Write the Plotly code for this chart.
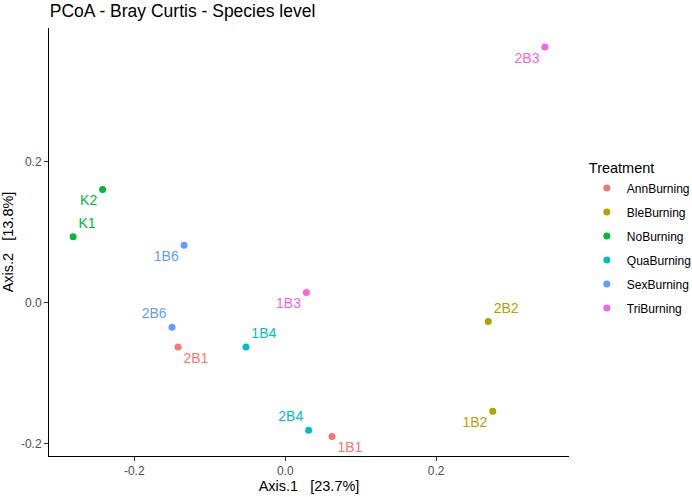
import plotly.graph_objects as go

# PCoA coordinates
samples = ["K1", "K2", "1B1", "2B1", "1B2", "2B2", "1B3", "2B3", "1B4", "2B4", "1B6", "2B6"]
treatment = ["NoBurning", "NoBurning", "AnnBurning", "AnnBurning", "BleBurning", "BleBurning",
             "TriBurning", "TriBurning", "QuaBurning", "QuaBurning", "SexBurning", "SexBurning"]
axis1 = [-0.281, -0.242, 0.062, -0.142, 0.275, 0.269, 0.028, 0.344, -0.052, 0.031, -0.134, -0.150]
axis2 = [0.093, 0.160, -0.190, -0.063, -0.154, -0.027, 0.014, 0.362, -0.063, -0.181, 0.081, -0.035]
label_pos = ["top right", "bottom left", "bottom right", "bottom right", "bottom left", "top right",
             "bottom left", "bottom left", "top right", "top left", "bottom left", "top left"]

groups = ["AnnBurning", "BleBurning", "NoBurning", "QuaBurning", "SexBurning", "TriBurning"]
colors = ["#F8766D", "#B79F00", "#00BA38", "#00BFC4", "#619CFF", "#F564E3"]

fig = go.Figure()
for g, c in zip(groups, colors):
    idx = [i for i, t in enumerate(treatment) if t == g]
    fig.add_trace(go.Scatter(
        x=[axis1[i] for i in idx],
        y=[axis2[i] for i in idx],
        text=[samples[i] for i in idx],
        textposition=[label_pos[i] for i in idx],
        mode="markers+text",
        name=g,
        legendgroup=g,
        marker=dict(color=c, size=7),
        textfont=dict(color=c, size=14, family="Liberation Sans"),
        cliponaxis=False,
    ))

axis_style = dict(
    showgrid=False, zeroline=False, showline=True, linecolor="black", linewidth=1,
    ticks="outside", ticklen=4, tickcolor="#333333", automargin=False,
    tickfont=dict(size=12, color="#4D4D4D"),
)

fig.update_layout(
    width=692, height=497,
    margin=dict(l=49, r=123, t=28, b=41),
    plot_bgcolor="white", paper_bgcolor="white",
    font=dict(family="Liberation Sans", color="black"),
    title=dict(text="PCoA - Bray Curtis - Species level", x=0.072, xanchor="left",
               y=0.979, yanchor="middle", font=dict(size=17.5), automargin=False),
    xaxis=dict(range=[-0.313, 0.376], tickvals=[-0.2, 0.0, 0.2], ticktext=["-0.2", "0.0", "0.2"],
               title=dict(text="Axis.1   [23.7%]", font=dict(size=14.5), standoff=3), **axis_style),
    yaxis=dict(range=[-0.2176, 0.389], tickvals=[-0.2, 0.0, 0.2], ticktext=["-0.2", "0.0", "0.2"],
               title=dict(text="Axis.2   [13.8%]", font=dict(size=14.5), standoff=3), **axis_style),
    legend=dict(title=dict(text="Treatment", font=dict(size=14.5)), font=dict(size=12),
                xref="container", yref="container",
                x=0.848, xanchor="left", y=0.689, yanchor="top", tracegroupgap=5),
)

# the page body has an 8px default margin; drop it so the figure sits at the corner
fig.write_html("out.html", config={"displayModeBar": False},
               post_script="document.body.style.margin='0';")
